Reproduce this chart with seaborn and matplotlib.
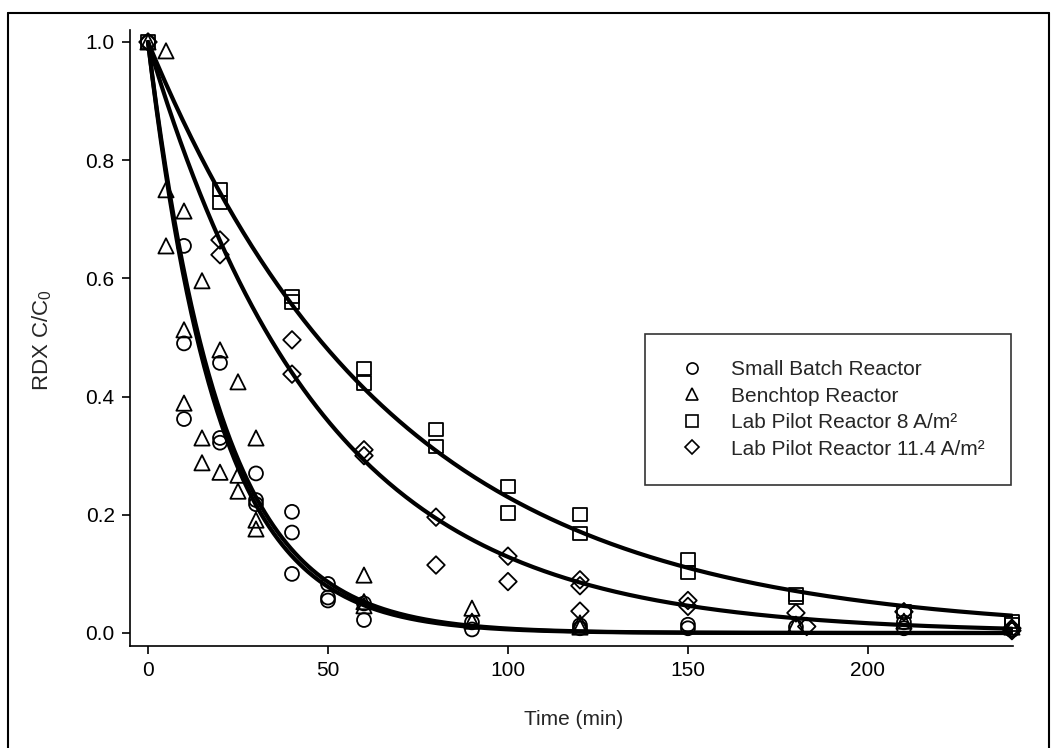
import numpy as np
import pandas as pd
import matplotlib
matplotlib.use("Agg")
import matplotlib.pyplot as plt
from matplotlib.lines import Line2D
import seaborn as sns

# Measured RDX C/C0 for each reactor
small_t = [0, 10, 10, 10, 20, 20, 20, 30, 30, 30, 40, 40, 40, 50, 50, 50, 60, 60,
           90, 90, 120, 120, 150, 150, 180, 210, 210, 240]
small_c = [1.0, 0.655, 0.49, 0.362, 0.457, 0.33, 0.322, 0.27, 0.225, 0.218, 0.205, 0.17, 0.10,
           0.083, 0.06, 0.055, 0.05, 0.022, 0.018, 0.006, 0.013, 0.008, 0.014, 0.008, 0.01,
           0.018, 0.008, 0.005]

bench_t = [0, 5, 5, 5, 10, 10, 10, 15, 15, 15, 20, 20, 25, 25, 25, 30, 30, 30,
           60, 60, 60, 90, 90, 120, 120, 180, 210, 240]
bench_c = [1.0, 0.985, 0.75, 0.655, 0.714, 0.513, 0.389, 0.596, 0.33, 0.288, 0.479, 0.272,
           0.425, 0.267, 0.24, 0.33, 0.191, 0.176, 0.098, 0.053, 0.046, 0.042, 0.02, 0.017,
           0.01, 0.015, 0.02, 0.01]

pilot8_t = [0, 20, 20, 40, 40, 60, 60, 80, 80, 100, 100, 120, 120, 150, 150, 180, 180,
            210, 240, 240]
pilot8_c = [1.0, 0.75, 0.728, 0.569, 0.56, 0.448, 0.423, 0.345, 0.315, 0.248, 0.203, 0.2,
            0.168, 0.125, 0.102, 0.065, 0.06, 0.036, 0.02, 0.015]

pilot11_t = [0, 20, 20, 40, 40, 60, 60, 80, 80, 100, 100, 120, 120, 120, 150, 150, 180,
             183, 210, 240, 240]
pilot11_c = [1.0, 0.665, 0.64, 0.496, 0.438, 0.31, 0.30, 0.196, 0.115, 0.13, 0.087, 0.09,
             0.08, 0.037, 0.055, 0.045, 0.034, 0.011, 0.036, 0.008, 0.004]

# First-order rate constants (1/min) of the fitted decay curves
k_small = 0.051
k_bench = 0.049
k_pilot8 = 0.0147
k_pilot11 = 0.0205

labels = ["Small Batch Reactor", "Benchtop Reactor",
          "Lab Pilot Reactor 8 A/m\u00b2", "Lab Pilot Reactor 11.4 A/m\u00b2"]

FS = 15

sns.set_style("ticks")
plt.rcParams["font.family"] = ["Liberation Sans", "DejaVu Sans"]
plt.rcParams["mathtext.fontset"] = "custom"
plt.rcParams["mathtext.rm"] = "Liberation Sans"
plt.rcParams["mathtext.it"] = "Liberation Sans"

fig = plt.figure(figsize=(10.52, 7.48), dpi=100)
ax = fig.add_axes([130 / 1052, 1 - 646 / 748, 883 / 1052, 616 / 748])

series = [
    (small_t, small_c, "o", 100),
    (bench_t, bench_c, "^", 120),
    (pilot8_t, pilot8_c, "s", 90),
    (pilot11_t, pilot11_c, "D", 80),
]
for t, c, m, s in series:
    df = pd.DataFrame({"t": t, "c": c})
    sns.scatterplot(data=df, x="t", y="c", marker=m, s=s, facecolor="none",
                    edgecolor="black", linewidth=1.3, ax=ax, legend=False,
                    clip_on=False, zorder=3)

t_fit = np.linspace(0, 240, 400)
for k in (k_small, k_bench, k_pilot11, k_pilot8):
    fit = pd.DataFrame({"t": t_fit, "c": np.exp(-k * t_fit)})
    sns.lineplot(data=fit, x="t", y="c", color="black", linewidth=3.0, ax=ax,
                 legend=False, zorder=4)

ax.set_xlim(-5, 240.3)
ax.set_ylim(-0.022, 1.0203)
ax.set_xticks([0, 50, 100, 150, 200])
ax.set_yticks([0.0, 0.2, 0.4, 0.6, 0.8, 1.0])
ax.set_yticklabels(["0.0", "0.2", "0.4", "0.6", "0.8", "1.0"])
ax.tick_params(axis="both", direction="out", length=6, width=1.2, labelsize=FS,
               colors="black", pad=5)
for side in ("top", "right"):
    ax.spines[side].set_visible(False)
for side in ("left", "bottom"):
    ax.spines[side].set_linewidth(1.2)
    ax.spines[side].set_color("black")

ax.set_xlabel("Time (min)", fontsize=FS)
ax.set_ylabel("RDX C/C$_0$", fontsize=FS + 1)
ax.xaxis.set_label_coords(0.502, -0.104)
ax.yaxis.set_label_coords(-0.086, 0.497)

handles = [Line2D([], [], linestyle="none", marker=m, markersize=ms,
                  markerfacecolor="none", markeredgecolor="black", markeredgewidth=1.2)
           for m, ms in zip(["o", "^", "s", "D"], [8, 9, 8, 7.5])]
leg = ax.legend(handles, labels, loc="upper left",
                bbox_to_anchor=(645 / 1052, 1 - 334 / 748),
                bbox_transform=fig.transFigure, fontsize=FS, frameon=True,
                fancybox=False, edgecolor="black", borderpad=1.25, labelspacing=0.36,
                handlelength=2.0, handletextpad=0.9, borderaxespad=0)
leg.get_frame().set_linewidth(1.2)

# Outer frame around the whole figure
x0, x1 = 8 / 1052, 1049 / 1052
y1 = 1 - 13 / 748
for xs, ys in [((x0, x0), (0, y1)), ((x0, x1), (y1, y1)), ((x1, x1), (y1, 0))]:
    fig.add_artist(Line2D(xs, ys, transform=fig.transFigure, color="black", linewidth=1.5))

fig.savefig("out.png", dpi=100)
